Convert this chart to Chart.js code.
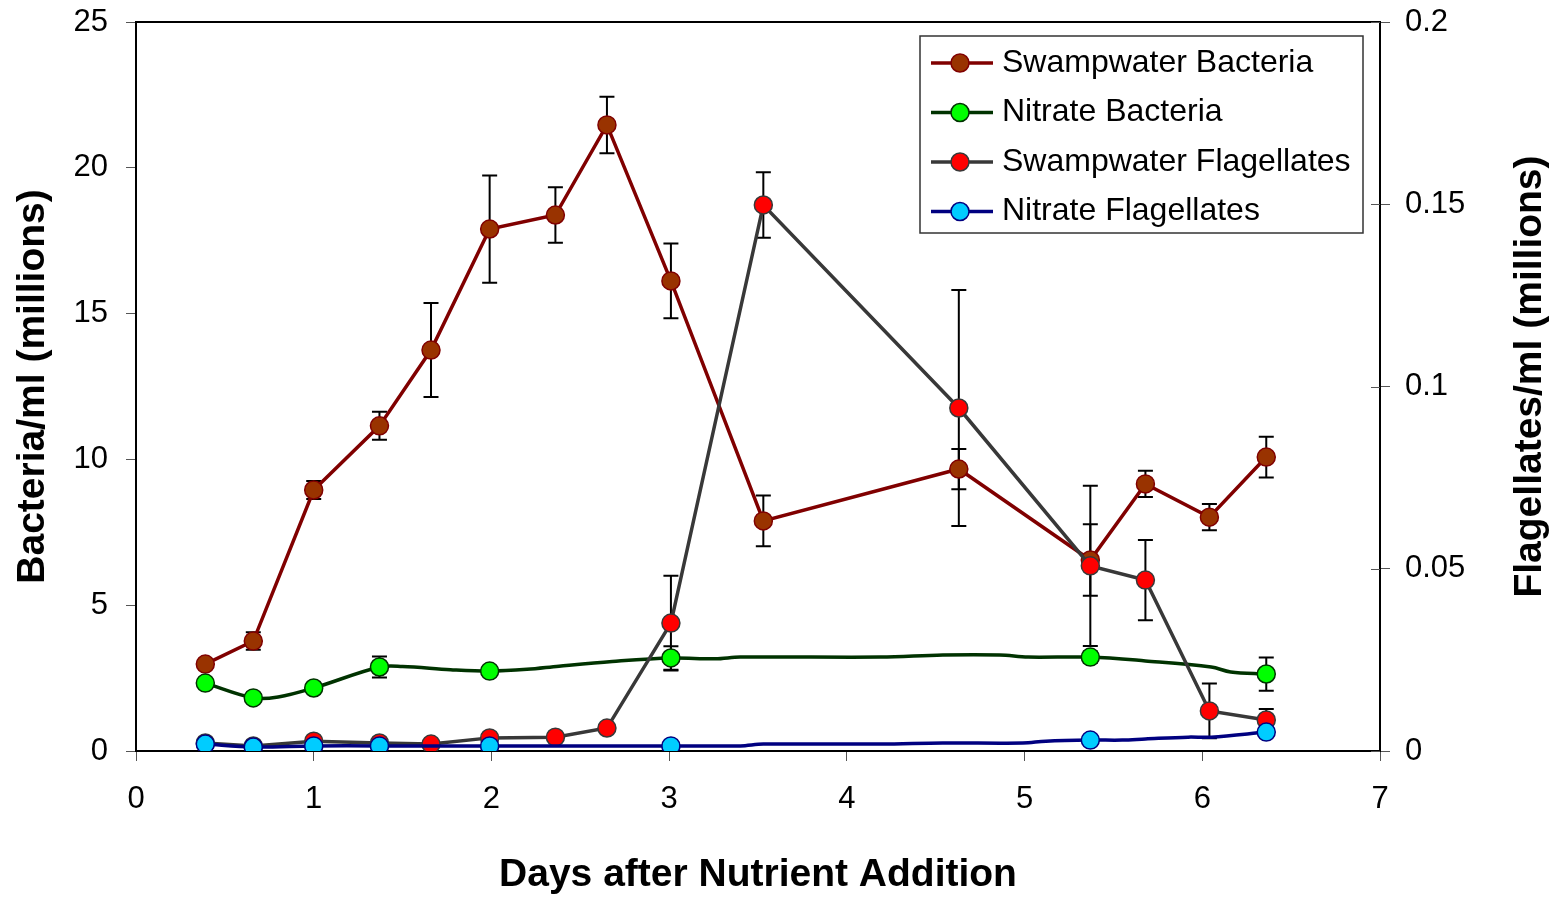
<!DOCTYPE html>
<html>
<head>
<meta charset="utf-8">
<title>Bacteria and Flagellates after Nutrient Addition</title>
<script src="https://cdn.jsdelivr.net/npm/chart.js@4/dist/chart.umd.min.js"></script>
<style>
  html, body { margin: 0; padding: 0; background: #fff; }
</style>
</head>
<body>
<canvas id="lineChart" width="1564" height="899"></canvas>
<script>
// sampling days (days after nutrient addition)
const swampDays = [0.39, 0.66, 1.0, 1.37, 1.66, 1.99, 2.36, 2.65, 3.01, 3.53, 4.63, 5.37, 5.68, 6.04, 6.36];
const nitrateDays = [0.39, 0.66, 1.0, 1.37, 1.99, 3.01, 5.37, 6.36];

// bacteria/ml (millions) - left axis
const swampBacteria = [2.98, 3.77, 8.95, 11.15, 13.75, 17.9, 18.38, 21.47, 16.12, 7.89, 9.67, 6.55, 9.16, 8.02, 10.08];
const swampBacteriaErr = [0, 0.3, 0.31, 0.48, 1.61, 1.84, 0.95, 0.97, 1.28, 0.87, 0.69, 1.23, 0.45, 0.45, 0.7];
const nitrateBacteria = [2.33, 1.82, 2.16, 2.88, 2.74, 3.19, 3.22, 2.64];
const nitrateBacteriaErr = [0, 0, 0.1, 0.36, 0, 0.4, 0.19, 0.57];
// unmarked vertices of the smoothed nitrate bacteria line
const nitrateBacteriaTraceDays = [0.8, 1.5, 1.77, 2.2, 2.38, 2.68, 3.26, 3.4, 4.19, 4.54, 4.86, 5.02, 5.68, 6.05, 6.16];
const nitrateBacteriaTrace = [1.85, 2.9, 2.79, 2.8, 2.91, 3.07, 3.16, 3.22, 3.22, 3.29, 3.29, 3.22, 3.09, 2.88, 2.71];

// flagellates/ml (millions) - right axis
const swampFlagellates = [0.0022, 0.0014, 0.0027, 0.0022, 0.0019, 0.0036, 0.0038, 0.0063, 0.0351, 0.1498, 0.0941, 0.0508, 0.0469, 0.011, 0.0085];
const swampFlagellatesErr = [0, 0, 0, 0, 0, 0, 0, 0, 0.013, 0.009, 0.0324, 0.022, 0.011, 0.0075, 0.003];
const nitrateFlagellates = [0.0019, 0.0011, 0.0014, 0.0014, 0.0014, 0.0014, 0.003, 0.0052];
const nitrateFlagellatesErr = [0, 0, 0, 0, 0, 0, 0, 0];
const nitrateFlagellatesTraceDays = [3.4, 3.53, 4.19, 4.54, 4.99, 5.12, 5.55, 5.68, 5.92, 6.05];
const nitrateFlagellatesTrace = [0.0014, 0.0019, 0.0019, 0.0022, 0.0022, 0.0027, 0.003, 0.0033, 0.0038, 0.0038];

// axis ticks and titles
const xTicks = { min: 0, max: 7, step: 1 };
const bacteriaTicks = { min: 0, max: 25, step: 5 };
const flagellateTicks = { min: 0, max: 0.2, step: 0.05 };
const xTitle = "Days after Nutrient Addition";
const leftTitle = "Bacteria/ml (millions)";
const rightTitle = "Flagellates/ml (millions)";

const FONT = '"Liberation Sans", Arial, sans-serif';

// measured points get a marker and an error bar, trace points only shape the line
function buildPoints(days, values, errors, traceDays, traceValues) {
  const pts = days.map((d, i) => ({ x: d, y: values[i], e: errors[i], m: true }));
  (traceDays || []).forEach((d, i) => pts.push({ x: d, y: traceValues[i], e: 0, m: false }));
  return pts.sort((a, b) => a.x - b.x);
}

const markerRadius = ctx => (ctx.raw && ctx.raw.m ? 9 : 0);

// vertical error bars with caps, behind the lines
const errorBars = {
  id: "errorBars",
  beforeDatasetsDraw(chart) {
    const { ctx } = chart;
    const xs = chart.scales.x;
    ctx.save();
    ctx.strokeStyle = "#000";
    ctx.lineWidth = 2;
    chart.data.datasets.forEach(ds => {
      const ys = chart.scales[ds.yAxisID];
      ds.data.forEach(p => {
        if (!p.e) return;
        const x = xs.getPixelForValue(p.x);
        const top = ys.getPixelForValue(p.y + p.e);
        const bot = ys.getPixelForValue(p.y - p.e);
        ctx.beginPath();
        ctx.moveTo(x, top); ctx.lineTo(x, bot);
        ctx.moveTo(x - 7.5, top); ctx.lineTo(x + 7.5, top);
        ctx.moveTo(x - 7.5, bot); ctx.lineTo(x + 7.5, bot);
        ctx.stroke();
      });
    });
    ctx.restore();
  }
};

// top edge of the plot box, inner half of right ticks, right axis title
const frame = {
  id: "frame",
  afterDraw(chart) {
    const { ctx, chartArea } = chart;
    ctx.save();
    ctx.strokeStyle = "#000";
    ctx.lineWidth = 2;
    ctx.beginPath();
    ctx.moveTo(chartArea.left - 1, chartArea.top);
    ctx.lineTo(chartArea.right + 1, chartArea.top);
    ctx.stroke();

    const r = chart.scales.y1;
    ctx.strokeStyle = "#555";
    ctx.lineWidth = 1;
    r.ticks.forEach(t => {
      const y = Math.round(r.getPixelForValue(t.value)) + 0.5;
      ctx.beginPath();
      ctx.moveTo(chartArea.right - 9, y);
      ctx.lineTo(chartArea.right, y);
      ctx.stroke();
    });

    ctx.translate(chart.width - 34, (chartArea.top + chartArea.bottom) / 2 - 10);
    ctx.rotate(-Math.PI / 2);
    ctx.fillStyle = "#000";
    ctx.font = "bold 39px " + FONT;
    ctx.textAlign = "center";
    ctx.textBaseline = "middle";
    ctx.fillText(rightTitle, 0, 0);
    ctx.restore();
  }
};

// boxed legend in the upper right corner of the plot
const legendBox = {
  id: "legendBox",
  afterDraw(chart) {
    const { ctx, chartArea } = chart;
    const w = 443, h = 197;
    const left = chartArea.right - 17 - w;
    const top = chartArea.top + 14;
    ctx.save();
    ctx.fillStyle = "#fff";
    ctx.fillRect(left, top, w, h);
    ctx.strokeStyle = "#333";
    ctx.lineWidth = 1.5;
    ctx.strokeRect(left, top, w, h);
    ctx.font = "32px " + FONT;
    ctx.textBaseline = "middle";
    chart.data.datasets.forEach((ds, i) => {
      const y = top + 27 + i * 49.5;
      ctx.strokeStyle = ds.borderColor;
      ctx.lineWidth = ds.borderWidth;
      ctx.beginPath();
      ctx.moveTo(left + 11, y);
      ctx.lineTo(left + 73, y);
      ctx.stroke();
      ctx.beginPath();
      ctx.arc(left + 40, y, 9, 0, Math.PI * 2);
      ctx.fillStyle = ds.pointBackgroundColor;
      ctx.fill();
      ctx.strokeStyle = ds.pointBorderColor;
      ctx.lineWidth = 1.5;
      ctx.stroke();
      ctx.fillStyle = "#000";
      ctx.fillText(ds.label, left + 82, y);
    });
    ctx.restore();
  }
};

function tickFont() {
  return { family: FONT, size: 31 };
}

// fixed box sizes so the plot area lands where the original has it
function fitVertical(width) {
  return s => {
    s.width = width;
    s.paddingTop = 0;
    s.paddingBottom = 0;
  };
}

function drawGraph() {
  const ctx = document.getElementById("lineChart").getContext("2d");

  new Chart(ctx, {
    type: "line",
    data: {
      datasets: [
        {
          label: "Swampwater Bacteria",
          data: buildPoints(swampDays, swampBacteria, swampBacteriaErr),
          yAxisID: "y",
          borderColor: "#800000",
          borderWidth: 3.5,
          pointBackgroundColor: "#993300",
          pointBorderColor: "#800000",
          pointBorderWidth: 1.5,
          pointRadius: markerRadius,
          pointHoverRadius: markerRadius,
          tension: 0,
          order: 3,
        },
        {
          label: "Nitrate Bacteria",
          data: buildPoints(nitrateDays, nitrateBacteria, nitrateBacteriaErr, nitrateBacteriaTraceDays, nitrateBacteriaTrace),
          yAxisID: "y",
          borderColor: "#003300",
          borderWidth: 3.5,
          pointBackgroundColor: "#00ff00",
          pointBorderColor: "#003300",
          pointBorderWidth: 1.5,
          pointRadius: markerRadius,
          pointHoverRadius: markerRadius,
          tension: 0.35,
          order: 2,
        },
        {
          label: "Swampwater Flagellates",
          data: buildPoints(swampDays, swampFlagellates, swampFlagellatesErr),
          yAxisID: "y1",
          borderColor: "#383838",
          borderWidth: 3.5,
          pointBackgroundColor: "#ff0000",
          pointBorderColor: "#383838",
          pointBorderWidth: 1.5,
          pointRadius: markerRadius,
          pointHoverRadius: markerRadius,
          tension: 0,
          order: 1,
        },
        {
          label: "Nitrate Flagellates",
          data: buildPoints(nitrateDays, nitrateFlagellates, nitrateFlagellatesErr, nitrateFlagellatesTraceDays, nitrateFlagellatesTrace),
          yAxisID: "y1",
          borderColor: "#000080",
          borderWidth: 3.5,
          pointBackgroundColor: "#00ccff",
          pointBorderColor: "#000080",
          pointBorderWidth: 1.5,
          pointRadius: markerRadius,
          pointHoverRadius: markerRadius,
          tension: 0.35,
          order: 0,
        },
      ],
    },
    options: {
      responsive: false,
      animation: false,
      layout: { padding: { top: 22, left: 0, right: 0, bottom: 0 } },
      plugins: {
        legend: { display: false },
        tooltip: { enabled: false },
      },
      scales: {
        x: {
          type: "linear",
          min: xTicks.min,
          max: xTicks.max,
          ticks: { stepSize: xTicks.step, color: "#000", font: tickFont(), padding: 20 },
          grid: { drawOnChartArea: false, tickLength: 10, tickColor: "#555" },
          border: { color: "#000", width: 2 },
          title: {
            display: true,
            text: xTitle,
            color: "#000",
            font: { family: FONT, size: 39, weight: "bold" },
            padding: { top: 0, bottom: 0 },
          },
          afterFit: s => { s.height = 148; },
        },
        y: {
          position: "left",
          min: bacteriaTicks.min,
          max: bacteriaTicks.max,
          ticks: { stepSize: bacteriaTicks.step, color: "#000", font: tickFont(), padding: 18 },
          grid: { drawOnChartArea: false, tickLength: 10, tickColor: "#555" },
          border: { color: "#000", width: 2 },
          title: {
            display: true,
            text: leftTitle,
            color: "#000",
            font: { family: FONT, size: 39, weight: "bold" },
            padding: { top: 10, bottom: 0 },
          },
          afterFit: fitVertical(136),
        },
        y1: {
          position: "right",
          min: flagellateTicks.min,
          max: flagellateTicks.max,
          ticks: {
            stepSize: flagellateTicks.step,
            color: "#000",
            font: tickFont(),
            padding: 15,
            callback: v => String(+v.toFixed(2)),
          },
          grid: { drawOnChartArea: false, tickLength: 10, tickColor: "#555" },
          border: { color: "#000", width: 2 },
          afterFit: fitVertical(184),
        },
      },
    },
    plugins: [errorBars, frame, legendBox],
  });
}

drawGraph();
</script>
</body>
</html>
